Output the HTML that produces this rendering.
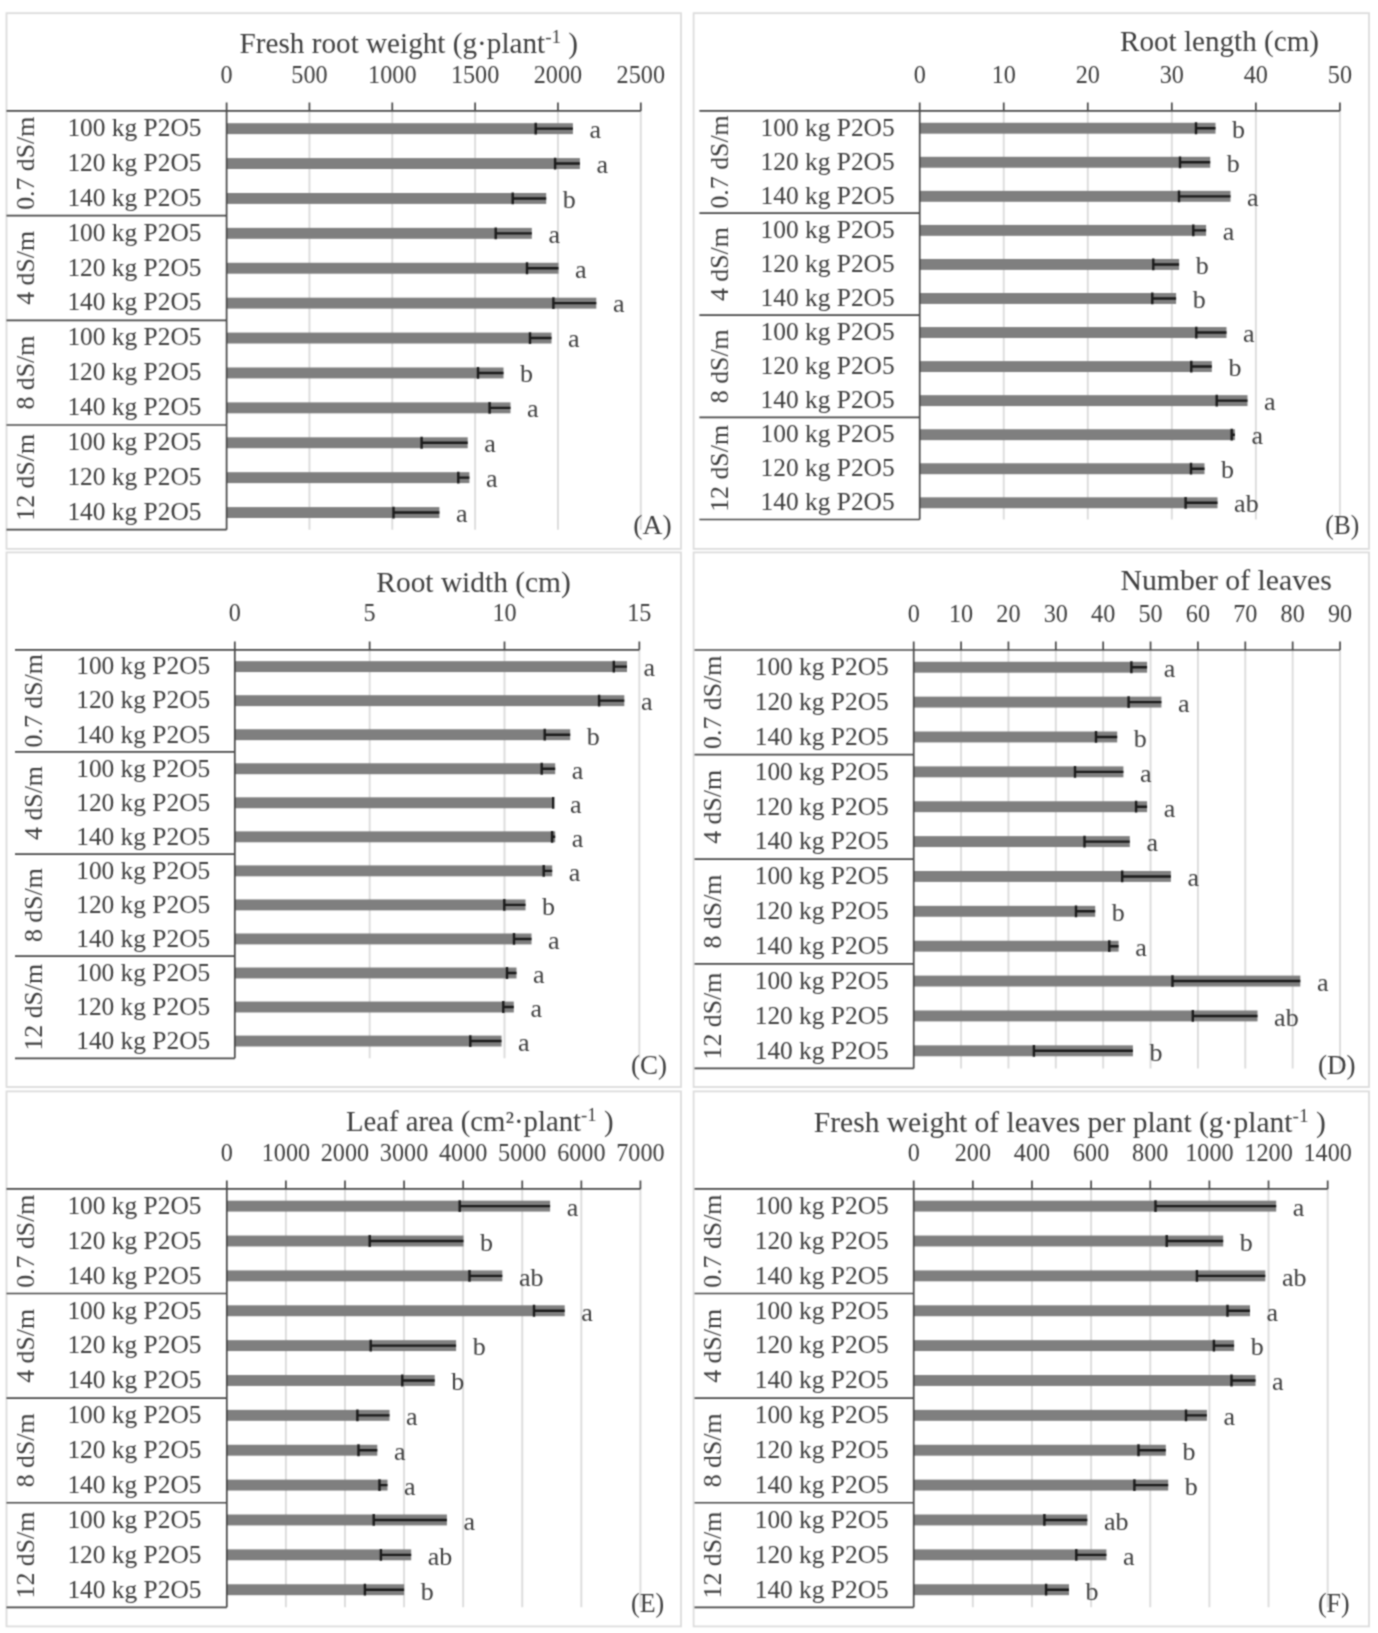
<!DOCTYPE html>
<html lang="en"><head><meta charset="utf-8"><title>Figure: root and leaf traits under salinity and phosphorus levels</title>
<style>html,body{margin:0;padding:0;background:#fff}body{width:1378px;height:1633px;overflow:hidden}svg{display:block}text{font-family:"Liberation Serif","DejaVu Serif",serif;fill:#3e3e3e}</style></head><body>
<svg width="1378" height="1633" viewBox="0 0 1378 1633">
<defs><filter id="soft" x="0" y="0" width="1378" height="1633" filterUnits="userSpaceOnUse" color-interpolation-filters="sRGB"><feConvolveMatrix order="3" kernelMatrix="1 2 1 2 6 2 1 2 1" divisor="18" edgeMode="duplicate" preserveAlpha="true"/></filter></defs>
<g filter="url(#soft)">
<rect x="0" y="0" width="1378" height="1633" fill="#ffffff"/>
<g id="panel-A">
<rect x="6.5" y="13.2" width="674.5" height="535.7" fill="#fff" stroke="#dcdcdc" stroke-width="1.8"/>
<line x1="309.44" y1="110.9" x2="309.44" y2="529.7" stroke="#dcdcdc" stroke-width="1.9"/>
<line x1="392.28" y1="110.9" x2="392.28" y2="529.7" stroke="#dcdcdc" stroke-width="1.9"/>
<line x1="475.12" y1="110.9" x2="475.12" y2="529.7" stroke="#dcdcdc" stroke-width="1.9"/>
<line x1="557.96" y1="110.9" x2="557.96" y2="529.7" stroke="#dcdcdc" stroke-width="1.9"/>
<line x1="640.8" y1="110.9" x2="640.8" y2="529.7" stroke="#dcdcdc" stroke-width="1.9"/>
<rect x="226.6" y="123.2" width="346.3" height="10.9" fill="#7f7f7f"/>
<rect x="226.6" y="158.1" width="353.3" height="10.9" fill="#7f7f7f"/>
<rect x="226.6" y="193" width="319.6" height="10.9" fill="#7f7f7f"/>
<rect x="226.6" y="227.9" width="305.2" height="10.9" fill="#7f7f7f"/>
<rect x="226.6" y="262.8" width="331.9" height="10.9" fill="#7f7f7f"/>
<rect x="226.6" y="297.7" width="369.7" height="10.9" fill="#7f7f7f"/>
<rect x="226.6" y="332.6" width="324.9" height="10.9" fill="#7f7f7f"/>
<rect x="226.6" y="367.5" width="276.9" height="10.9" fill="#7f7f7f"/>
<rect x="226.6" y="402.4" width="283.9" height="10.9" fill="#7f7f7f"/>
<rect x="226.6" y="437.3" width="241.1" height="10.9" fill="#7f7f7f"/>
<rect x="226.6" y="472.2" width="242.8" height="10.9" fill="#7f7f7f"/>
<rect x="226.6" y="507.1" width="212.8" height="10.9" fill="#7f7f7f"/>
<path d="M572.9 128.65H535.1M535.7 122.75V134.55" stroke="#1a1a1a" stroke-width="2.4" fill="none"/>
<path d="M579.9 163.55H554.5M555.1 157.65V169.45" stroke="#1a1a1a" stroke-width="2.4" fill="none"/>
<path d="M546.2 198.45H512.1M512.7 192.55V204.35" stroke="#1a1a1a" stroke-width="2.4" fill="none"/>
<path d="M531.8 233.35H495.1M495.7 227.45V239.25" stroke="#1a1a1a" stroke-width="2.4" fill="none"/>
<path d="M558.5 268.25H526.4M527 262.35V274.15" stroke="#1a1a1a" stroke-width="2.4" fill="none"/>
<path d="M596.3 303.15H552.8M553.4 297.25V309.05" stroke="#1a1a1a" stroke-width="2.4" fill="none"/>
<path d="M551.5 338.05H529.4M530 332.15V343.95" stroke="#1a1a1a" stroke-width="2.4" fill="none"/>
<path d="M503.5 372.95H477.4M478 367.05V378.85" stroke="#1a1a1a" stroke-width="2.4" fill="none"/>
<path d="M510.5 407.85H489M489.6 401.95V413.75" stroke="#1a1a1a" stroke-width="2.4" fill="none"/>
<path d="M467.7 442.75H421M421.6 436.85V448.65" stroke="#1a1a1a" stroke-width="2.4" fill="none"/>
<path d="M469.4 477.65H457.7M458.3 471.75V483.55" stroke="#1a1a1a" stroke-width="2.4" fill="none"/>
<path d="M439.4 512.55H392.9M393.5 506.65V518.45" stroke="#1a1a1a" stroke-width="2.4" fill="none"/>
<path d="M6.5 110.9H640.8M226.6 102.5V110.9M309.44 102.5V110.9M392.28 102.5V110.9M475.12 102.5V110.9M557.96 102.5V110.9M640.8 102.5V110.9M226.6 110.9V529.7M6.5 215.6H226.6M6.5 320.3H226.6M6.5 425H226.6M6.5 529.7H226.6" stroke="#484848" stroke-width="1.7" fill="none"/>
<text x="226.6" y="83.2" font-size="25" text-anchor="middle" textLength="12.1" lengthAdjust="spacingAndGlyphs">0</text>
<text x="309.44" y="83.2" font-size="25" text-anchor="middle" textLength="36.3" lengthAdjust="spacingAndGlyphs">500</text>
<text x="392.28" y="83.2" font-size="25" text-anchor="middle" textLength="48.4" lengthAdjust="spacingAndGlyphs">1000</text>
<text x="475.12" y="83.2" font-size="25" text-anchor="middle" textLength="48.4" lengthAdjust="spacingAndGlyphs">1500</text>
<text x="557.96" y="83.2" font-size="25" text-anchor="middle" textLength="48.4" lengthAdjust="spacingAndGlyphs">2000</text>
<text x="640.8" y="83.2" font-size="25" text-anchor="middle" textLength="48.4" lengthAdjust="spacingAndGlyphs">2500</text>
<text x="239.6" y="53.3" font-size="29" textLength="338.5" lengthAdjust="spacingAndGlyphs">Fresh root weight (g·plant<tspan font-size="19" dy="-10">-1</tspan><tspan dy="10"> )</tspan></text>
<text x="67.4" y="135.95" font-size="25.4">100 kg P2O5</text>
<text x="67.4" y="170.85" font-size="25.4">120 kg P2O5</text>
<text x="67.4" y="205.75" font-size="25.4">140 kg P2O5</text>
<text x="67.4" y="240.65" font-size="25.4">100 kg P2O5</text>
<text x="67.4" y="275.55" font-size="25.4">120 kg P2O5</text>
<text x="67.4" y="310.45" font-size="25.4">140 kg P2O5</text>
<text x="67.4" y="345.35" font-size="25.4">100 kg P2O5</text>
<text x="67.4" y="380.25" font-size="25.4">120 kg P2O5</text>
<text x="67.4" y="415.15" font-size="25.4">140 kg P2O5</text>
<text x="67.4" y="450.05" font-size="25.4">100 kg P2O5</text>
<text x="67.4" y="484.95" font-size="25.4">120 kg P2O5</text>
<text x="67.4" y="519.85" font-size="25.4">140 kg P2O5</text>
<text transform="translate(33.6 163.25) rotate(-90)" font-size="25.8" text-anchor="middle">0.7 dS/m</text>
<text transform="translate(33.6 267.95) rotate(-90)" font-size="25.8" text-anchor="middle">4 dS/m</text>
<text transform="translate(33.6 372.65) rotate(-90)" font-size="25.8" text-anchor="middle">8 dS/m</text>
<text transform="translate(33.6 477.35) rotate(-90)" font-size="25.8" text-anchor="middle">12 dS/m</text>
<text x="589.5" y="137.95" font-size="26">a</text>
<text x="596.5" y="172.85" font-size="26">a</text>
<text x="562.8" y="207.75" font-size="26">b</text>
<text x="548.4" y="242.65" font-size="26">a</text>
<text x="575.1" y="277.55" font-size="26">a</text>
<text x="612.9" y="312.45" font-size="26">a</text>
<text x="568.1" y="347.35" font-size="26">a</text>
<text x="520.1" y="382.25" font-size="26">b</text>
<text x="527.1" y="417.15" font-size="26">a</text>
<text x="484.3" y="452.05" font-size="26">a</text>
<text x="486" y="486.95" font-size="26">a</text>
<text x="456" y="521.85" font-size="26">a</text>
<text x="633.3" y="534.4" font-size="27" textLength="38.3" lengthAdjust="spacingAndGlyphs">(A)</text>
</g>
<g id="panel-B">
<rect x="693.6" y="13.2" width="675.4" height="535.7" fill="#fff" stroke="#dcdcdc" stroke-width="1.8"/>
<line x1="1003.74" y1="110.9" x2="1003.74" y2="519.5" stroke="#dcdcdc" stroke-width="1.9"/>
<line x1="1087.78" y1="110.9" x2="1087.78" y2="519.5" stroke="#dcdcdc" stroke-width="1.9"/>
<line x1="1171.82" y1="110.9" x2="1171.82" y2="519.5" stroke="#dcdcdc" stroke-width="1.9"/>
<line x1="1255.86" y1="110.9" x2="1255.86" y2="519.5" stroke="#dcdcdc" stroke-width="1.9"/>
<line x1="1339.9" y1="110.9" x2="1339.9" y2="519.5" stroke="#dcdcdc" stroke-width="1.9"/>
<rect x="919.7" y="122.78" width="295.8" height="10.9" fill="#7f7f7f"/>
<rect x="919.7" y="156.83" width="290.5" height="10.9" fill="#7f7f7f"/>
<rect x="919.7" y="190.88" width="310.8" height="10.9" fill="#7f7f7f"/>
<rect x="919.7" y="224.93" width="286.4" height="10.9" fill="#7f7f7f"/>
<rect x="919.7" y="258.98" width="259.4" height="10.9" fill="#7f7f7f"/>
<rect x="919.7" y="293.02" width="256.4" height="10.9" fill="#7f7f7f"/>
<rect x="919.7" y="327.08" width="306.8" height="10.9" fill="#7f7f7f"/>
<rect x="919.7" y="361.12" width="292.1" height="10.9" fill="#7f7f7f"/>
<rect x="919.7" y="395.17" width="327.8" height="10.9" fill="#7f7f7f"/>
<rect x="919.7" y="429.23" width="315.2" height="10.9" fill="#7f7f7f"/>
<rect x="919.7" y="463.27" width="284.8" height="10.9" fill="#7f7f7f"/>
<rect x="919.7" y="497.33" width="297.8" height="10.9" fill="#7f7f7f"/>
<path d="M1215.5 128.23H1195.4M1196 122.33V134.13" stroke="#1a1a1a" stroke-width="2.4" fill="none"/>
<path d="M1210.2 162.28H1179.4M1180 156.38V168.18" stroke="#1a1a1a" stroke-width="2.4" fill="none"/>
<path d="M1230.5 196.33H1178.4M1179 190.43V202.23" stroke="#1a1a1a" stroke-width="2.4" fill="none"/>
<path d="M1206.1 230.38H1192.7M1193.3 224.47V236.28" stroke="#1a1a1a" stroke-width="2.4" fill="none"/>
<path d="M1179.1 264.43H1152.7M1153.3 258.53V270.32" stroke="#1a1a1a" stroke-width="2.4" fill="none"/>
<path d="M1176.1 298.47H1151.7M1152.3 292.57V304.37" stroke="#1a1a1a" stroke-width="2.4" fill="none"/>
<path d="M1226.5 332.53H1195.7M1196.3 326.63V338.43" stroke="#1a1a1a" stroke-width="2.4" fill="none"/>
<path d="M1211.8 366.57H1190.7M1191.3 360.68V372.47" stroke="#1a1a1a" stroke-width="2.4" fill="none"/>
<path d="M1247.5 400.62H1216.1M1216.7 394.72V406.52" stroke="#1a1a1a" stroke-width="2.4" fill="none"/>
<path d="M1234.9 434.68H1231.1M1231.7 428.78V440.57" stroke="#1a1a1a" stroke-width="2.4" fill="none"/>
<path d="M1204.5 468.72H1190.4M1191 462.82V474.62" stroke="#1a1a1a" stroke-width="2.4" fill="none"/>
<path d="M1217.5 502.78H1185M1185.6 496.88V508.68" stroke="#1a1a1a" stroke-width="2.4" fill="none"/>
<path d="M699.4 110.9H1339.9M919.7 102.5V110.9M1003.74 102.5V110.9M1087.78 102.5V110.9M1171.82 102.5V110.9M1255.86 102.5V110.9M1339.9 102.5V110.9M919.7 110.9V519.5M699.4 213.05H919.7M699.4 315.2H919.7M699.4 417.35H919.7M699.4 519.5H919.7" stroke="#484848" stroke-width="1.7" fill="none"/>
<text x="919.7" y="82.6" font-size="25" text-anchor="middle" textLength="12.1" lengthAdjust="spacingAndGlyphs">0</text>
<text x="1003.74" y="82.6" font-size="25" text-anchor="middle" textLength="24.2" lengthAdjust="spacingAndGlyphs">10</text>
<text x="1087.78" y="82.6" font-size="25" text-anchor="middle" textLength="24.2" lengthAdjust="spacingAndGlyphs">20</text>
<text x="1171.82" y="82.6" font-size="25" text-anchor="middle" textLength="24.2" lengthAdjust="spacingAndGlyphs">30</text>
<text x="1255.86" y="82.6" font-size="25" text-anchor="middle" textLength="24.2" lengthAdjust="spacingAndGlyphs">40</text>
<text x="1339.9" y="82.6" font-size="25" text-anchor="middle" textLength="24.2" lengthAdjust="spacingAndGlyphs">50</text>
<text x="1120" y="51.2" font-size="29" textLength="199" lengthAdjust="spacingAndGlyphs">Root length (cm)</text>
<text x="760.6" y="135.53" font-size="25.4">100 kg P2O5</text>
<text x="760.6" y="169.57" font-size="25.4">120 kg P2O5</text>
<text x="760.6" y="203.62" font-size="25.4">140 kg P2O5</text>
<text x="760.6" y="237.67" font-size="25.4">100 kg P2O5</text>
<text x="760.6" y="271.73" font-size="25.4">120 kg P2O5</text>
<text x="760.6" y="305.77" font-size="25.4">140 kg P2O5</text>
<text x="760.6" y="339.83" font-size="25.4">100 kg P2O5</text>
<text x="760.6" y="373.88" font-size="25.4">120 kg P2O5</text>
<text x="760.6" y="407.92" font-size="25.4">140 kg P2O5</text>
<text x="760.6" y="441.98" font-size="25.4">100 kg P2O5</text>
<text x="760.6" y="476.02" font-size="25.4">120 kg P2O5</text>
<text x="760.6" y="510.08" font-size="25.4">140 kg P2O5</text>
<text transform="translate(727.5 161.97) rotate(-90)" font-size="25.8" text-anchor="middle">0.7 dS/m</text>
<text transform="translate(727.5 264.12) rotate(-90)" font-size="25.8" text-anchor="middle">4 dS/m</text>
<text transform="translate(727.5 366.27) rotate(-90)" font-size="25.8" text-anchor="middle">8 dS/m</text>
<text transform="translate(727.5 468.42) rotate(-90)" font-size="25.8" text-anchor="middle">12 dS/m</text>
<text x="1232.1" y="137.53" font-size="26">b</text>
<text x="1226.8" y="171.57" font-size="26">b</text>
<text x="1247.1" y="205.62" font-size="26">a</text>
<text x="1222.7" y="239.67" font-size="26">a</text>
<text x="1195.7" y="273.73" font-size="26">b</text>
<text x="1192.7" y="307.77" font-size="26">b</text>
<text x="1243.1" y="341.83" font-size="26">a</text>
<text x="1228.4" y="375.88" font-size="26">b</text>
<text x="1264.1" y="409.92" font-size="26">a</text>
<text x="1251.5" y="443.98" font-size="26">a</text>
<text x="1221.1" y="478.02" font-size="26">b</text>
<text x="1234.1" y="512.08" font-size="26">ab</text>
<text x="1325.3" y="534.4" font-size="27" textLength="34" lengthAdjust="spacingAndGlyphs">(B)</text>
</g>
<g id="panel-C">
<rect x="6.5" y="552.4" width="674.5" height="534.6" fill="#fff" stroke="#dcdcdc" stroke-width="1.8"/>
<line x1="369.65" y1="649.8" x2="369.65" y2="1058.28" stroke="#dcdcdc" stroke-width="1.9"/>
<line x1="504.5" y1="649.8" x2="504.5" y2="1058.28" stroke="#dcdcdc" stroke-width="1.9"/>
<line x1="639.35" y1="649.8" x2="639.35" y2="1058.28" stroke="#dcdcdc" stroke-width="1.9"/>
<rect x="234.8" y="661.17" width="392.2" height="10.9" fill="#7f7f7f"/>
<rect x="234.8" y="695.21" width="389.5" height="10.9" fill="#7f7f7f"/>
<rect x="234.8" y="729.25" width="335.4" height="10.9" fill="#7f7f7f"/>
<rect x="234.8" y="763.29" width="320.4" height="10.9" fill="#7f7f7f"/>
<rect x="234.8" y="797.33" width="318.7" height="10.9" fill="#7f7f7f"/>
<rect x="234.8" y="831.37" width="320.4" height="10.9" fill="#7f7f7f"/>
<rect x="234.8" y="865.41" width="317.4" height="10.9" fill="#7f7f7f"/>
<rect x="234.8" y="899.45" width="290.7" height="10.9" fill="#7f7f7f"/>
<rect x="234.8" y="933.49" width="296.7" height="10.9" fill="#7f7f7f"/>
<rect x="234.8" y="967.53" width="281.7" height="10.9" fill="#7f7f7f"/>
<rect x="234.8" y="1001.57" width="279" height="10.9" fill="#7f7f7f"/>
<rect x="234.8" y="1035.61" width="266.7" height="10.9" fill="#7f7f7f"/>
<path d="M627 666.62H613.2M613.8 660.72V672.52" stroke="#1a1a1a" stroke-width="2.4" fill="none"/>
<path d="M624.3 700.66H598.5M599.1 694.76V706.56" stroke="#1a1a1a" stroke-width="2.4" fill="none"/>
<path d="M570.2 734.7H544.1M544.7 728.8V740.6" stroke="#1a1a1a" stroke-width="2.4" fill="none"/>
<path d="M555.2 768.74H541.1M541.7 762.84V774.64" stroke="#1a1a1a" stroke-width="2.4" fill="none"/>
<path d="M553.5 802.78H552.6M553.2 796.88V808.68" stroke="#1a1a1a" stroke-width="2.4" fill="none"/>
<path d="M555.2 836.82H551.5M552.1 830.92V842.72" stroke="#1a1a1a" stroke-width="2.4" fill="none"/>
<path d="M552.2 870.86H543.1M543.7 864.96V876.76" stroke="#1a1a1a" stroke-width="2.4" fill="none"/>
<path d="M525.5 904.9H503.7M504.3 899V910.8" stroke="#1a1a1a" stroke-width="2.4" fill="none"/>
<path d="M531.5 938.94H513.4M514 933.04V944.84" stroke="#1a1a1a" stroke-width="2.4" fill="none"/>
<path d="M516.5 972.98H506.4M507 967.08V978.88" stroke="#1a1a1a" stroke-width="2.4" fill="none"/>
<path d="M513.8 1007.02H502.7M503.3 1001.12V1012.92" stroke="#1a1a1a" stroke-width="2.4" fill="none"/>
<path d="M501.5 1041.06H469.7M470.3 1035.16V1046.96" stroke="#1a1a1a" stroke-width="2.4" fill="none"/>
<path d="M15 649.8H639.35M234.8 641.4V649.8M369.65 641.4V649.8M504.5 641.4V649.8M639.35 641.4V649.8M234.8 649.8V1058.28M15 751.92H234.8M15 854.04H234.8M15 956.16H234.8M15 1058.28H234.8" stroke="#484848" stroke-width="1.7" fill="none"/>
<text x="234.8" y="621.4" font-size="25" text-anchor="middle" textLength="12.1" lengthAdjust="spacingAndGlyphs">0</text>
<text x="369.65" y="621.4" font-size="25" text-anchor="middle" textLength="12.1" lengthAdjust="spacingAndGlyphs">5</text>
<text x="504.5" y="621.4" font-size="25" text-anchor="middle" textLength="24.2" lengthAdjust="spacingAndGlyphs">10</text>
<text x="639.35" y="621.4" font-size="25" text-anchor="middle" textLength="24.2" lengthAdjust="spacingAndGlyphs">15</text>
<text x="376.3" y="592.2" font-size="29" textLength="194.5" lengthAdjust="spacingAndGlyphs">Root width (cm)</text>
<text x="76.2" y="674.42" font-size="25.4">100 kg P2O5</text>
<text x="76.2" y="708.46" font-size="25.4">120 kg P2O5</text>
<text x="76.2" y="742.5" font-size="25.4">140 kg P2O5</text>
<text x="76.2" y="776.54" font-size="25.4">100 kg P2O5</text>
<text x="76.2" y="810.58" font-size="25.4">120 kg P2O5</text>
<text x="76.2" y="844.62" font-size="25.4">140 kg P2O5</text>
<text x="76.2" y="878.66" font-size="25.4">100 kg P2O5</text>
<text x="76.2" y="912.7" font-size="25.4">120 kg P2O5</text>
<text x="76.2" y="946.74" font-size="25.4">140 kg P2O5</text>
<text x="76.2" y="980.78" font-size="25.4">100 kg P2O5</text>
<text x="76.2" y="1014.82" font-size="25.4">120 kg P2O5</text>
<text x="76.2" y="1048.86" font-size="25.4">140 kg P2O5</text>
<text transform="translate(42.2 700.86) rotate(-90)" font-size="25.8" text-anchor="middle">0.7 dS/m</text>
<text transform="translate(42.2 802.98) rotate(-90)" font-size="25.8" text-anchor="middle">4 dS/m</text>
<text transform="translate(42.2 905.1) rotate(-90)" font-size="25.8" text-anchor="middle">8 dS/m</text>
<text transform="translate(42.2 1007.22) rotate(-90)" font-size="25.8" text-anchor="middle">12 dS/m</text>
<text x="643.6" y="676.42" font-size="26">a</text>
<text x="640.9" y="710.46" font-size="26">a</text>
<text x="586.8" y="744.5" font-size="26">b</text>
<text x="571.8" y="778.54" font-size="26">a</text>
<text x="570.1" y="812.58" font-size="26">a</text>
<text x="571.8" y="846.62" font-size="26">a</text>
<text x="568.8" y="880.66" font-size="26">a</text>
<text x="542.1" y="914.7" font-size="26">b</text>
<text x="548.1" y="948.74" font-size="26">a</text>
<text x="533.1" y="982.78" font-size="26">a</text>
<text x="530.4" y="1016.82" font-size="26">a</text>
<text x="518.1" y="1050.86" font-size="26">a</text>
<text x="631" y="1073.8" font-size="27" textLength="36" lengthAdjust="spacingAndGlyphs">(C)</text>
</g>
<g id="panel-D">
<rect x="693.6" y="552.4" width="675.4" height="534.6" fill="#fff" stroke="#dcdcdc" stroke-width="1.8"/>
<line x1="961.07" y1="650" x2="961.07" y2="1068.44" stroke="#dcdcdc" stroke-width="1.9"/>
<line x1="1008.44" y1="650" x2="1008.44" y2="1068.44" stroke="#dcdcdc" stroke-width="1.9"/>
<line x1="1055.81" y1="650" x2="1055.81" y2="1068.44" stroke="#dcdcdc" stroke-width="1.9"/>
<line x1="1103.18" y1="650" x2="1103.18" y2="1068.44" stroke="#dcdcdc" stroke-width="1.9"/>
<line x1="1150.55" y1="650" x2="1150.55" y2="1068.44" stroke="#dcdcdc" stroke-width="1.9"/>
<line x1="1197.92" y1="650" x2="1197.92" y2="1068.44" stroke="#dcdcdc" stroke-width="1.9"/>
<line x1="1245.29" y1="650" x2="1245.29" y2="1068.44" stroke="#dcdcdc" stroke-width="1.9"/>
<line x1="1292.66" y1="650" x2="1292.66" y2="1068.44" stroke="#dcdcdc" stroke-width="1.9"/>
<line x1="1340.03" y1="650" x2="1340.03" y2="1068.44" stroke="#dcdcdc" stroke-width="1.9"/>
<rect x="913.7" y="661.78" width="233.4" height="10.9" fill="#7f7f7f"/>
<rect x="913.7" y="696.65" width="247.7" height="10.9" fill="#7f7f7f"/>
<rect x="913.7" y="731.52" width="203.5" height="10.9" fill="#7f7f7f"/>
<rect x="913.7" y="766.39" width="209.7" height="10.9" fill="#7f7f7f"/>
<rect x="913.7" y="801.26" width="233.4" height="10.9" fill="#7f7f7f"/>
<rect x="913.7" y="836.13" width="216.1" height="10.9" fill="#7f7f7f"/>
<rect x="913.7" y="871" width="257.2" height="10.9" fill="#7f7f7f"/>
<rect x="913.7" y="905.87" width="181.5" height="10.9" fill="#7f7f7f"/>
<rect x="913.7" y="940.74" width="204.9" height="10.9" fill="#7f7f7f"/>
<rect x="913.7" y="975.61" width="386.6" height="10.9" fill="#7f7f7f"/>
<rect x="913.7" y="1010.48" width="343.8" height="10.9" fill="#7f7f7f"/>
<rect x="913.7" y="1045.36" width="219.2" height="10.9" fill="#7f7f7f"/>
<path d="M1147.1 667.23H1130.8M1131.4 661.33V673.13" stroke="#1a1a1a" stroke-width="2.4" fill="none"/>
<path d="M1161.4 702.1H1128M1128.6 696.2V708" stroke="#1a1a1a" stroke-width="2.4" fill="none"/>
<path d="M1117.2 736.97H1095.4M1096 731.07V742.87" stroke="#1a1a1a" stroke-width="2.4" fill="none"/>
<path d="M1123.4 771.84H1074.4M1075 765.94V777.74" stroke="#1a1a1a" stroke-width="2.4" fill="none"/>
<path d="M1147.1 806.71H1135.5M1136.1 800.81V812.61" stroke="#1a1a1a" stroke-width="2.4" fill="none"/>
<path d="M1129.8 841.58H1083.9M1084.5 835.68V847.48" stroke="#1a1a1a" stroke-width="2.4" fill="none"/>
<path d="M1170.9 876.45H1121.6M1122.2 870.55V882.35" stroke="#1a1a1a" stroke-width="2.4" fill="none"/>
<path d="M1095.2 911.32H1075.4M1076 905.42V917.22" stroke="#1a1a1a" stroke-width="2.4" fill="none"/>
<path d="M1118.6 946.19H1108.7M1109.3 940.29V952.09" stroke="#1a1a1a" stroke-width="2.4" fill="none"/>
<path d="M1300.3 981.06H1171.9M1172.5 975.16V986.96" stroke="#1a1a1a" stroke-width="2.4" fill="none"/>
<path d="M1257.5 1015.93H1192.2M1192.8 1010.03V1021.83" stroke="#1a1a1a" stroke-width="2.4" fill="none"/>
<path d="M1132.9 1050.81H1033.3M1033.9 1044.9V1056.71" stroke="#1a1a1a" stroke-width="2.4" fill="none"/>
<path d="M694.5 650H1340.03M913.7 641.6V650M961.07 641.6V650M1008.44 641.6V650M1055.81 641.6V650M1103.18 641.6V650M1150.55 641.6V650M1197.92 641.6V650M1245.29 641.6V650M1292.66 641.6V650M1340.03 641.6V650M913.7 650V1068.44M694.5 754.61H913.7M694.5 859.22H913.7M694.5 963.83H913.7M694.5 1068.44H913.7" stroke="#484848" stroke-width="1.7" fill="none"/>
<text x="913.7" y="621.5" font-size="25" text-anchor="middle" textLength="12.1" lengthAdjust="spacingAndGlyphs">0</text>
<text x="961.07" y="621.5" font-size="25" text-anchor="middle" textLength="24.2" lengthAdjust="spacingAndGlyphs">10</text>
<text x="1008.44" y="621.5" font-size="25" text-anchor="middle" textLength="24.2" lengthAdjust="spacingAndGlyphs">20</text>
<text x="1055.81" y="621.5" font-size="25" text-anchor="middle" textLength="24.2" lengthAdjust="spacingAndGlyphs">30</text>
<text x="1103.18" y="621.5" font-size="25" text-anchor="middle" textLength="24.2" lengthAdjust="spacingAndGlyphs">40</text>
<text x="1150.55" y="621.5" font-size="25" text-anchor="middle" textLength="24.2" lengthAdjust="spacingAndGlyphs">50</text>
<text x="1197.92" y="621.5" font-size="25" text-anchor="middle" textLength="24.2" lengthAdjust="spacingAndGlyphs">60</text>
<text x="1245.29" y="621.5" font-size="25" text-anchor="middle" textLength="24.2" lengthAdjust="spacingAndGlyphs">70</text>
<text x="1292.66" y="621.5" font-size="25" text-anchor="middle" textLength="24.2" lengthAdjust="spacingAndGlyphs">80</text>
<text x="1340.03" y="621.5" font-size="25" text-anchor="middle" textLength="24.2" lengthAdjust="spacingAndGlyphs">90</text>
<text x="1120.4" y="589.7" font-size="29" textLength="211.5" lengthAdjust="spacingAndGlyphs">Number of leaves</text>
<text x="754.7" y="675.03" font-size="25.4">100 kg P2O5</text>
<text x="754.7" y="709.9" font-size="25.4">120 kg P2O5</text>
<text x="754.7" y="744.77" font-size="25.4">140 kg P2O5</text>
<text x="754.7" y="779.64" font-size="25.4">100 kg P2O5</text>
<text x="754.7" y="814.51" font-size="25.4">120 kg P2O5</text>
<text x="754.7" y="849.38" font-size="25.4">140 kg P2O5</text>
<text x="754.7" y="884.25" font-size="25.4">100 kg P2O5</text>
<text x="754.7" y="919.12" font-size="25.4">120 kg P2O5</text>
<text x="754.7" y="954" font-size="25.4">140 kg P2O5</text>
<text x="754.7" y="988.87" font-size="25.4">100 kg P2O5</text>
<text x="754.7" y="1023.74" font-size="25.4">120 kg P2O5</text>
<text x="754.7" y="1058.61" font-size="25.4">140 kg P2O5</text>
<text transform="translate(720.8 702.3) rotate(-90)" font-size="25.8" text-anchor="middle">0.7 dS/m</text>
<text transform="translate(720.8 806.91) rotate(-90)" font-size="25.8" text-anchor="middle">4 dS/m</text>
<text transform="translate(720.8 911.52) rotate(-90)" font-size="25.8" text-anchor="middle">8 dS/m</text>
<text transform="translate(720.8 1016.13) rotate(-90)" font-size="25.8" text-anchor="middle">12 dS/m</text>
<text x="1163.7" y="677.03" font-size="26">a</text>
<text x="1178" y="711.9" font-size="26">a</text>
<text x="1133.8" y="746.77" font-size="26">b</text>
<text x="1140" y="781.64" font-size="26">a</text>
<text x="1163.7" y="816.51" font-size="26">a</text>
<text x="1146.4" y="851.38" font-size="26">a</text>
<text x="1187.5" y="886.25" font-size="26">a</text>
<text x="1111.8" y="921.12" font-size="26">b</text>
<text x="1135.2" y="956" font-size="26">a</text>
<text x="1316.9" y="990.87" font-size="26">a</text>
<text x="1274.1" y="1025.73" font-size="26">ab</text>
<text x="1149.5" y="1060.61" font-size="26">b</text>
<text x="1318" y="1074" font-size="27" textLength="37.6" lengthAdjust="spacingAndGlyphs">(D)</text>
</g>
<g id="panel-E">
<rect x="6.5" y="1091.4" width="674.5" height="535" fill="#fff" stroke="#dcdcdc" stroke-width="1.8"/>
<line x1="285.89" y1="1188.9" x2="285.89" y2="1607.34" stroke="#dcdcdc" stroke-width="1.9"/>
<line x1="344.98" y1="1188.9" x2="344.98" y2="1607.34" stroke="#dcdcdc" stroke-width="1.9"/>
<line x1="404.07" y1="1188.9" x2="404.07" y2="1607.34" stroke="#dcdcdc" stroke-width="1.9"/>
<line x1="463.16" y1="1188.9" x2="463.16" y2="1607.34" stroke="#dcdcdc" stroke-width="1.9"/>
<line x1="522.25" y1="1188.9" x2="522.25" y2="1607.34" stroke="#dcdcdc" stroke-width="1.9"/>
<line x1="581.34" y1="1188.9" x2="581.34" y2="1607.34" stroke="#dcdcdc" stroke-width="1.9"/>
<line x1="640.43" y1="1188.9" x2="640.43" y2="1607.34" stroke="#dcdcdc" stroke-width="1.9"/>
<rect x="226.8" y="1200.68" width="323.3" height="10.9" fill="#7f7f7f"/>
<rect x="226.8" y="1235.56" width="236.7" height="10.9" fill="#7f7f7f"/>
<rect x="226.8" y="1270.42" width="275.5" height="10.9" fill="#7f7f7f"/>
<rect x="226.8" y="1305.3" width="337.9" height="10.9" fill="#7f7f7f"/>
<rect x="226.8" y="1340.16" width="229.3" height="10.9" fill="#7f7f7f"/>
<rect x="226.8" y="1375.04" width="207.9" height="10.9" fill="#7f7f7f"/>
<rect x="226.8" y="1409.9" width="162.7" height="10.9" fill="#7f7f7f"/>
<rect x="226.8" y="1444.78" width="150.5" height="10.9" fill="#7f7f7f"/>
<rect x="226.8" y="1479.64" width="160.7" height="10.9" fill="#7f7f7f"/>
<rect x="226.8" y="1514.51" width="220.1" height="10.9" fill="#7f7f7f"/>
<rect x="226.8" y="1549.38" width="184.4" height="10.9" fill="#7f7f7f"/>
<rect x="226.8" y="1584.26" width="177.3" height="10.9" fill="#7f7f7f"/>
<path d="M550.1 1206.13H459.1M459.7 1200.23V1212.04" stroke="#1a1a1a" stroke-width="2.4" fill="none"/>
<path d="M463.5 1241.01H369.1M369.7 1235.11V1246.91" stroke="#1a1a1a" stroke-width="2.4" fill="none"/>
<path d="M502.3 1275.88H468.9M469.5 1269.97V1281.78" stroke="#1a1a1a" stroke-width="2.4" fill="none"/>
<path d="M564.7 1310.75H533.4M534 1304.85V1316.65" stroke="#1a1a1a" stroke-width="2.4" fill="none"/>
<path d="M456.1 1345.62H370.1M370.7 1339.71V1351.52" stroke="#1a1a1a" stroke-width="2.4" fill="none"/>
<path d="M434.7 1380.49H401.7M402.3 1374.59V1386.39" stroke="#1a1a1a" stroke-width="2.4" fill="none"/>
<path d="M389.5 1415.36H356.8M357.4 1409.45V1421.26" stroke="#1a1a1a" stroke-width="2.4" fill="none"/>
<path d="M377.3 1450.23H357.9M358.5 1444.33V1456.13" stroke="#1a1a1a" stroke-width="2.4" fill="none"/>
<path d="M387.5 1485.1H378.9M379.5 1479.19V1491" stroke="#1a1a1a" stroke-width="2.4" fill="none"/>
<path d="M446.9 1519.96H373.1M373.7 1514.06V1525.87" stroke="#1a1a1a" stroke-width="2.4" fill="none"/>
<path d="M411.2 1554.84H380.3M380.9 1548.93V1560.74" stroke="#1a1a1a" stroke-width="2.4" fill="none"/>
<path d="M404.1 1589.71H364.3M364.9 1583.81V1595.61" stroke="#1a1a1a" stroke-width="2.4" fill="none"/>
<path d="M6.5 1188.9H640.43M226.8 1180.5V1188.9M285.89 1180.5V1188.9M344.98 1180.5V1188.9M404.07 1180.5V1188.9M463.16 1180.5V1188.9M522.25 1180.5V1188.9M581.34 1180.5V1188.9M640.43 1180.5V1188.9M226.8 1188.9V1607.34M6.5 1293.51H226.8M6.5 1398.12H226.8M6.5 1502.73H226.8M6.5 1607.34H226.8" stroke="#484848" stroke-width="1.7" fill="none"/>
<text x="226.8" y="1160.7" font-size="25" text-anchor="middle" textLength="12.1" lengthAdjust="spacingAndGlyphs">0</text>
<text x="285.89" y="1160.7" font-size="25" text-anchor="middle" textLength="48.4" lengthAdjust="spacingAndGlyphs">1000</text>
<text x="344.98" y="1160.7" font-size="25" text-anchor="middle" textLength="48.4" lengthAdjust="spacingAndGlyphs">2000</text>
<text x="404.07" y="1160.7" font-size="25" text-anchor="middle" textLength="48.4" lengthAdjust="spacingAndGlyphs">3000</text>
<text x="463.16" y="1160.7" font-size="25" text-anchor="middle" textLength="48.4" lengthAdjust="spacingAndGlyphs">4000</text>
<text x="522.25" y="1160.7" font-size="25" text-anchor="middle" textLength="48.4" lengthAdjust="spacingAndGlyphs">5000</text>
<text x="581.34" y="1160.7" font-size="25" text-anchor="middle" textLength="48.4" lengthAdjust="spacingAndGlyphs">6000</text>
<text x="640.43" y="1160.7" font-size="25" text-anchor="middle" textLength="48.4" lengthAdjust="spacingAndGlyphs">7000</text>
<text x="346" y="1131.3" font-size="29" textLength="267.5" lengthAdjust="spacingAndGlyphs">Leaf area (cm²·plant<tspan font-size="19" dy="-10">-1</tspan><tspan dy="10"> )</tspan></text>
<text x="67.4" y="1213.93" font-size="25.4">100 kg P2O5</text>
<text x="67.4" y="1248.81" font-size="25.4">120 kg P2O5</text>
<text x="67.4" y="1283.67" font-size="25.4">140 kg P2O5</text>
<text x="67.4" y="1318.55" font-size="25.4">100 kg P2O5</text>
<text x="67.4" y="1353.41" font-size="25.4">120 kg P2O5</text>
<text x="67.4" y="1388.29" font-size="25.4">140 kg P2O5</text>
<text x="67.4" y="1423.15" font-size="25.4">100 kg P2O5</text>
<text x="67.4" y="1458.03" font-size="25.4">120 kg P2O5</text>
<text x="67.4" y="1492.89" font-size="25.4">140 kg P2O5</text>
<text x="67.4" y="1527.76" font-size="25.4">100 kg P2O5</text>
<text x="67.4" y="1562.63" font-size="25.4">120 kg P2O5</text>
<text x="67.4" y="1597.51" font-size="25.4">140 kg P2O5</text>
<text transform="translate(33.6 1241.21) rotate(-90)" font-size="25.8" text-anchor="middle">0.7 dS/m</text>
<text transform="translate(33.6 1345.82) rotate(-90)" font-size="25.8" text-anchor="middle">4 dS/m</text>
<text transform="translate(33.6 1450.43) rotate(-90)" font-size="25.8" text-anchor="middle">8 dS/m</text>
<text transform="translate(33.6 1555.04) rotate(-90)" font-size="25.8" text-anchor="middle">12 dS/m</text>
<text x="566.7" y="1215.93" font-size="26">a</text>
<text x="480.1" y="1250.81" font-size="26">b</text>
<text x="518.9" y="1285.67" font-size="26">ab</text>
<text x="581.3" y="1320.55" font-size="26">a</text>
<text x="472.7" y="1355.41" font-size="26">b</text>
<text x="451.3" y="1390.29" font-size="26">b</text>
<text x="406.1" y="1425.15" font-size="26">a</text>
<text x="393.9" y="1460.03" font-size="26">a</text>
<text x="404.1" y="1494.89" font-size="26">a</text>
<text x="463.5" y="1529.76" font-size="26">a</text>
<text x="427.8" y="1564.63" font-size="26">ab</text>
<text x="420.7" y="1599.51" font-size="26">b</text>
<text x="631" y="1612.1" font-size="27" textLength="33.2" lengthAdjust="spacingAndGlyphs">(E)</text>
</g>
<g id="panel-F">
<rect x="693.6" y="1091.4" width="675.4" height="535" fill="#fff" stroke="#dcdcdc" stroke-width="1.8"/>
<line x1="972.84" y1="1188.9" x2="972.84" y2="1607.34" stroke="#dcdcdc" stroke-width="1.9"/>
<line x1="1031.98" y1="1188.9" x2="1031.98" y2="1607.34" stroke="#dcdcdc" stroke-width="1.9"/>
<line x1="1091.12" y1="1188.9" x2="1091.12" y2="1607.34" stroke="#dcdcdc" stroke-width="1.9"/>
<line x1="1150.26" y1="1188.9" x2="1150.26" y2="1607.34" stroke="#dcdcdc" stroke-width="1.9"/>
<line x1="1209.4" y1="1188.9" x2="1209.4" y2="1607.34" stroke="#dcdcdc" stroke-width="1.9"/>
<line x1="1268.54" y1="1188.9" x2="1268.54" y2="1607.34" stroke="#dcdcdc" stroke-width="1.9"/>
<line x1="1327.68" y1="1188.9" x2="1327.68" y2="1607.34" stroke="#dcdcdc" stroke-width="1.9"/>
<rect x="913.7" y="1200.68" width="362.5" height="10.9" fill="#7f7f7f"/>
<rect x="913.7" y="1235.56" width="309.5" height="10.9" fill="#7f7f7f"/>
<rect x="913.7" y="1270.42" width="351.6" height="10.9" fill="#7f7f7f"/>
<rect x="913.7" y="1305.3" width="336.3" height="10.9" fill="#7f7f7f"/>
<rect x="913.7" y="1340.16" width="320.4" height="10.9" fill="#7f7f7f"/>
<rect x="913.7" y="1375.04" width="341.8" height="10.9" fill="#7f7f7f"/>
<rect x="913.7" y="1409.9" width="293.2" height="10.9" fill="#7f7f7f"/>
<rect x="913.7" y="1444.78" width="252.1" height="10.9" fill="#7f7f7f"/>
<rect x="913.7" y="1479.64" width="254.5" height="10.9" fill="#7f7f7f"/>
<rect x="913.7" y="1514.51" width="173.6" height="10.9" fill="#7f7f7f"/>
<rect x="913.7" y="1549.38" width="192.7" height="10.9" fill="#7f7f7f"/>
<rect x="913.7" y="1584.26" width="155.3" height="10.9" fill="#7f7f7f"/>
<path d="M1276.2 1206.13H1154.9M1155.5 1200.23V1212.04" stroke="#1a1a1a" stroke-width="2.4" fill="none"/>
<path d="M1223.2 1241.01H1166.1M1166.7 1235.11V1246.91" stroke="#1a1a1a" stroke-width="2.4" fill="none"/>
<path d="M1265.3 1275.88H1196.3M1196.9 1269.97V1281.78" stroke="#1a1a1a" stroke-width="2.4" fill="none"/>
<path d="M1250 1310.75H1226.9M1227.5 1304.85V1316.65" stroke="#1a1a1a" stroke-width="2.4" fill="none"/>
<path d="M1234.1 1345.62H1213.3M1213.9 1339.71V1351.52" stroke="#1a1a1a" stroke-width="2.4" fill="none"/>
<path d="M1255.5 1380.49H1230.9M1231.5 1374.59V1386.39" stroke="#1a1a1a" stroke-width="2.4" fill="none"/>
<path d="M1206.9 1415.36H1185.4M1186 1409.45V1421.26" stroke="#1a1a1a" stroke-width="2.4" fill="none"/>
<path d="M1165.8 1450.23H1137.9M1138.5 1444.33V1456.13" stroke="#1a1a1a" stroke-width="2.4" fill="none"/>
<path d="M1168.2 1485.1H1133.8M1134.4 1479.19V1491" stroke="#1a1a1a" stroke-width="2.4" fill="none"/>
<path d="M1087.3 1519.96H1043.8M1044.4 1514.06V1525.87" stroke="#1a1a1a" stroke-width="2.4" fill="none"/>
<path d="M1106.4 1554.84H1075.7M1076.3 1548.93V1560.74" stroke="#1a1a1a" stroke-width="2.4" fill="none"/>
<path d="M1069 1589.71H1045.5M1046.1 1583.81V1595.61" stroke="#1a1a1a" stroke-width="2.4" fill="none"/>
<path d="M694.5 1188.9H1327.68M913.7 1180.5V1188.9M972.84 1180.5V1188.9M1031.98 1180.5V1188.9M1091.12 1180.5V1188.9M1150.26 1180.5V1188.9M1209.4 1180.5V1188.9M1268.54 1180.5V1188.9M1327.68 1180.5V1188.9M913.7 1188.9V1607.34M694.5 1293.51H913.7M694.5 1398.12H913.7M694.5 1502.73H913.7M694.5 1607.34H913.7" stroke="#484848" stroke-width="1.7" fill="none"/>
<text x="913.7" y="1160.7" font-size="25" text-anchor="middle" textLength="12.1" lengthAdjust="spacingAndGlyphs">0</text>
<text x="972.84" y="1160.7" font-size="25" text-anchor="middle" textLength="36.3" lengthAdjust="spacingAndGlyphs">200</text>
<text x="1031.98" y="1160.7" font-size="25" text-anchor="middle" textLength="36.3" lengthAdjust="spacingAndGlyphs">400</text>
<text x="1091.12" y="1160.7" font-size="25" text-anchor="middle" textLength="36.3" lengthAdjust="spacingAndGlyphs">600</text>
<text x="1150.26" y="1160.7" font-size="25" text-anchor="middle" textLength="36.3" lengthAdjust="spacingAndGlyphs">800</text>
<text x="1209.4" y="1160.7" font-size="25" text-anchor="middle" textLength="48.4" lengthAdjust="spacingAndGlyphs">1000</text>
<text x="1268.54" y="1160.7" font-size="25" text-anchor="middle" textLength="48.4" lengthAdjust="spacingAndGlyphs">1200</text>
<text x="1327.68" y="1160.7" font-size="25" text-anchor="middle" textLength="48.4" lengthAdjust="spacingAndGlyphs">1400</text>
<text x="813.8" y="1131.5" font-size="29" textLength="512" lengthAdjust="spacingAndGlyphs">Fresh weight of leaves per plant (g·plant<tspan font-size="19" dy="-10">-1</tspan><tspan dy="10"> )</tspan></text>
<text x="754.7" y="1213.93" font-size="25.4">100 kg P2O5</text>
<text x="754.7" y="1248.81" font-size="25.4">120 kg P2O5</text>
<text x="754.7" y="1283.67" font-size="25.4">140 kg P2O5</text>
<text x="754.7" y="1318.55" font-size="25.4">100 kg P2O5</text>
<text x="754.7" y="1353.41" font-size="25.4">120 kg P2O5</text>
<text x="754.7" y="1388.29" font-size="25.4">140 kg P2O5</text>
<text x="754.7" y="1423.15" font-size="25.4">100 kg P2O5</text>
<text x="754.7" y="1458.03" font-size="25.4">120 kg P2O5</text>
<text x="754.7" y="1492.89" font-size="25.4">140 kg P2O5</text>
<text x="754.7" y="1527.76" font-size="25.4">100 kg P2O5</text>
<text x="754.7" y="1562.63" font-size="25.4">120 kg P2O5</text>
<text x="754.7" y="1597.51" font-size="25.4">140 kg P2O5</text>
<text transform="translate(720.8 1241.21) rotate(-90)" font-size="25.8" text-anchor="middle">0.7 dS/m</text>
<text transform="translate(720.8 1345.82) rotate(-90)" font-size="25.8" text-anchor="middle">4 dS/m</text>
<text transform="translate(720.8 1450.43) rotate(-90)" font-size="25.8" text-anchor="middle">8 dS/m</text>
<text transform="translate(720.8 1555.04) rotate(-90)" font-size="25.8" text-anchor="middle">12 dS/m</text>
<text x="1292.8" y="1215.93" font-size="26">a</text>
<text x="1239.8" y="1250.81" font-size="26">b</text>
<text x="1281.9" y="1285.67" font-size="26">ab</text>
<text x="1266.6" y="1320.55" font-size="26">a</text>
<text x="1250.7" y="1355.41" font-size="26">b</text>
<text x="1272.1" y="1390.29" font-size="26">a</text>
<text x="1223.5" y="1425.15" font-size="26">a</text>
<text x="1182.4" y="1460.03" font-size="26">b</text>
<text x="1184.8" y="1494.89" font-size="26">b</text>
<text x="1103.9" y="1529.76" font-size="26">ab</text>
<text x="1123" y="1564.63" font-size="26">a</text>
<text x="1085.6" y="1599.51" font-size="26">b</text>
<text x="1318" y="1612.1" font-size="27" textLength="31.5" lengthAdjust="spacingAndGlyphs">(F)</text>
</g>
</g></svg></body></html>
